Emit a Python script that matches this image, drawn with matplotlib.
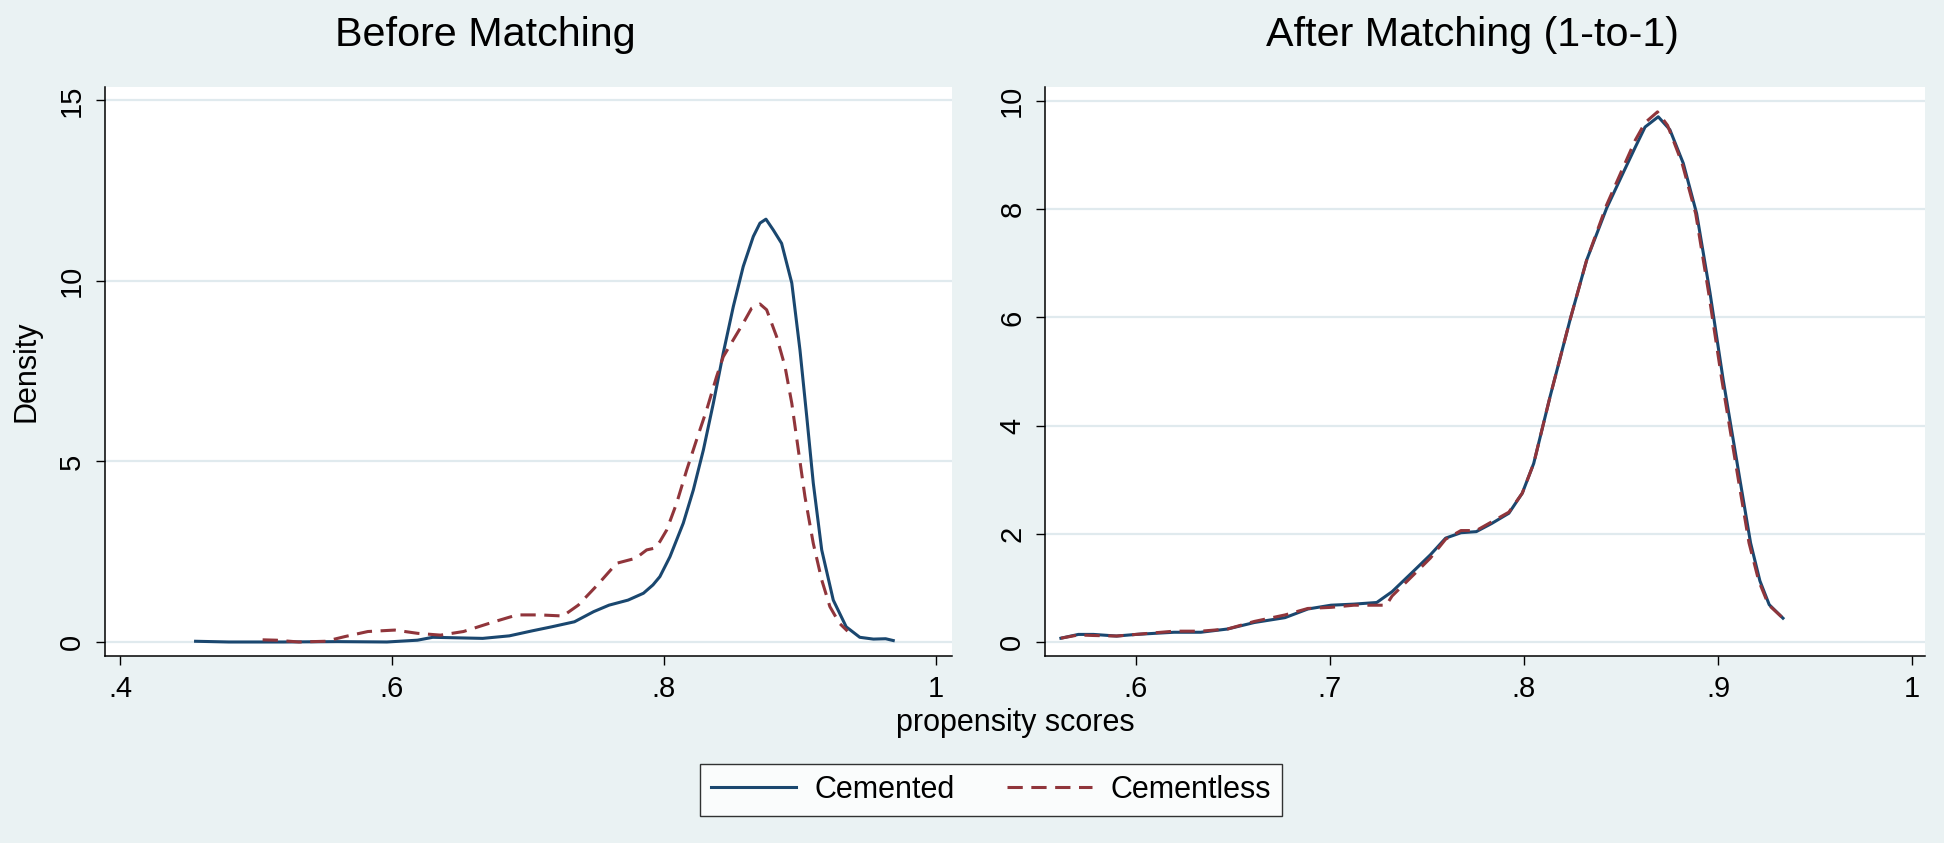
import matplotlib
matplotlib.use("Agg")
import matplotlib.pyplot as plt
from matplotlib.lines import Line2D

# --- values (kernel density of propensity scores) ---
before_cemented_x = [.4556, .48, .52, .56, .5963, .6188, .630, .6667, .6863, .7033, .7174,
                     .7342, .7483, .7596, .7736, .7849, .7919, .7970, .8044, .8142, .8216,
                     .829, .8363, .8436, .851, .8583, .8657, .8706, .875, .8804, .8865, .894,
                     .900, .905, .9098, .916, .9245, .934, .944, .954, .963, .9686]
before_cemented_y = [0.02, 0.0, 0.0, 0.01, 0.0, 0.05, 0.13, 0.10, 0.17, 0.31, 0.42,
                     0.56, 0.84, 1.02, 1.16, 1.35, 1.58, 1.81, 2.36, 3.29, 4.21,
                     5.32, 6.61, 8.0, 9.29, 10.4, 11.23, 11.6, 11.71, 11.41, 11.04, 9.94,
                     8.09, 6.24, 4.40, 2.55, 1.16, 0.42, 0.13, 0.08, 0.09, 0.04]

before_cementless_x = [.5049, .515, .5316, .5513, .5654, .5823, .602, .6188, .6357, .6526,
                       .6751, .692, .7089, .7257, .737, .7511, .7652, .7793, .7873, .7933,
                       .797, .802, .8093, .8167, .824, .8314, .8387, .8436, .851, .8583,
                       .8644, .8706, .8755, .8828, .889, .894, .8988, .9037, .9098, .916,
                       .922, .929, .935]
before_cementless_y = [.06, .05, .0, .02, .15, .29, .33, .24, .19, .29,
                       .56, .75, .75, .72, 1.02, 1.58, 2.18, 2.32, 2.55, 2.6,
                       2.78, 3.1, 3.84, 4.76, 5.6, 6.43, 7.35, 7.9, 8.37, 8.83,
                       9.24, 9.36, 9.2, 8.46, 7.63, 6.61, 5.32, 4.02, 2.73, 1.72,
                       0.98, 0.52, 0.3]

after_cemented_x = [.5613, .5703, .5781, .59, .6, .6097, .6196, .6334, .6472, .661, .6768,
                    .6886, .7005, .7123, .7241, .732, .7419, .7517, .7596, .7675, .7754,
                    .7833, .7922, .7991, .805, .8134, .8237, .8323, .8426, .8512, .8574,
                    .8624, .8692, .8752, .8821, .889, .8959, .9027, .9113, .9168, .9216,
                    .9264, .9335]
after_cemented_y = [.07, .14, .14, .11, .14, .16, .18, .18, .24, .36, .45,
                    .61, .68, .70, .73, .93, 1.27, 1.61, 1.92, 2.02, 2.04,
                    2.19, 2.38, 2.75, 3.3, 4.53, 5.95, 7.06, 8.02, 8.68, 9.15,
                    9.52, 9.71, 9.47, 8.85, 7.92, 6.45, 4.84, 3.0, 1.83, 1.13,
                    .69, .44]

after_cementless_x = [.5613, .5703, .5781, .59, .6, .6097, .6196, .6334, .6472, .661, .6768,
                      .6886, .7005, .7123, .7241, .729, .732, .7419, .7517, .7596, .7675,
                      .7754, .7833, .7922, .7991, .805, .8134, .8237, .8323, .8426, .8512,
                      .8574, .8624, .8688, .874, .8815, .8885, .8952, .902, .9105, .916,
                      .921, .926, .9335]
after_cementless_y = [.07, .13, .12, .11, .14, .17, .20, .20, .24, .38, .50,
                      .62, .64, .68, .68, .68, .85, 1.20, 1.55, 1.90, 2.06,
                      2.06, 2.22, 2.40, 2.75, 3.3, 4.53, 5.95, 7.06, 8.08, 8.78,
                      9.28, 9.60, 9.80, 9.55, 8.85, 7.92, 6.45, 4.84, 3.0, 1.83,
                      1.13, .69, .44]

titles = ["Before Matching", "After Matching (1-to-1)"]
series_labels = ["Cemented", "Cementless"]
before_xticks = [.4, .6, .8, 1]
before_xticklabels = [".4", ".6", ".8", "1"]
before_yticks = [0, 5, 10, 15]
after_xticks = [.6, .7, .8, .9, 1]
after_xticklabels = [".6", ".7", ".8", ".9", "1"]
after_yticks = [0, 2, 4, 6, 8, 10]

BG = "#EAF2F3"
GRID = "#E0EAEE"
NAVY = "#1A476F"
MAROON = "#90353B"
W, H = 1944, 843
LW = 2.2

plt.rcParams["font.family"] = ["Liberation Sans", "DejaVu Sans"]

fig = plt.figure(figsize=(W / 100, H / 100), dpi=100, facecolor=BG)


def make_axes(left, right, top, bottom):
    return fig.add_axes([left / W, 1 - bottom / H, (right - left) / W, (bottom - top) / H])


def style(ax, xlim, ylim, xticks, xticklabels, yticks):
    ax.set_facecolor("white")
    ax.set_xlim(*xlim)
    ax.set_ylim(*ylim)
    ax.set_xticks(xticks)
    ax.set_xticklabels(xticklabels)
    ax.set_yticks(yticks)
    ax.set_yticklabels([str(v) for v in yticks], rotation=90, va="center")
    for s in ["top", "right"]:
        ax.spines[s].set_visible(False)
    for s in ["left", "bottom"]:
        ax.spines[s].set_linewidth(1.1)
        ax.spines[s].set_color("black")
    ax.tick_params(length=6.5, width=1.0, labelsize=21, pad=7)
    ax.yaxis.grid(True, color=GRID, lw=1.6)
    ax.set_axisbelow(True)


ax1 = make_axes(105, 952, 87, 656)
ax1.plot(before_cemented_x, before_cemented_y, color=NAVY, lw=LW)
ax1.plot(before_cementless_x, before_cementless_y, color=MAROON, lw=LW, dashes=(5, 2.8))
style(ax1, (0.389, 1.0118), (-0.388, 15.37), before_xticks, before_xticklabels, before_yticks)
ax1.set_ylabel("Density", fontsize=22)
ax1.yaxis.set_label_coords((42 - 105) / 847, 0.5)

ax2 = make_axes(1045, 1925, 87, 656)
ax2.plot(after_cemented_x, after_cemented_y, color=NAVY, lw=LW)
ax2.plot(after_cementless_x, after_cementless_y, color=MAROON, lw=LW, dashes=(5, 2.8))
style(ax2, (0.5531, 1.0067), (-0.259, 10.26), after_xticks, after_xticklabels, after_yticks)

fig.text(485 / W, 1 - 35 / H, titles[0], ha="center", va="center", fontsize=29.7)
fig.text(1472 / W, 1 - 35 / H, titles[1], ha="center", va="center", fontsize=29.7)
fig.text(1015 / W, 1 - 723 / H, "propensity scores", ha="center", va="center", fontsize=22)

handles = [Line2D([], [], color=NAVY, lw=LW),
           Line2D([], [], color=MAROON, lw=LW, dashes=(5, 2.8))]
leg = fig.legend(handles, series_labels, loc="center", bbox_to_anchor=(991 / W, 1 - 790 / H),
                 ncol=2, fontsize=22, frameon=True, fancybox=False, handlelength=2.8,
                 handletextpad=0.6, columnspacing=1.7, borderpad=0.35, borderaxespad=0)
leg.get_frame().set_edgecolor("black")
leg.get_frame().set_linewidth(1.0)
leg.get_frame().set_facecolor("white")

fig.savefig("out.png", dpi=100, facecolor=BG)
